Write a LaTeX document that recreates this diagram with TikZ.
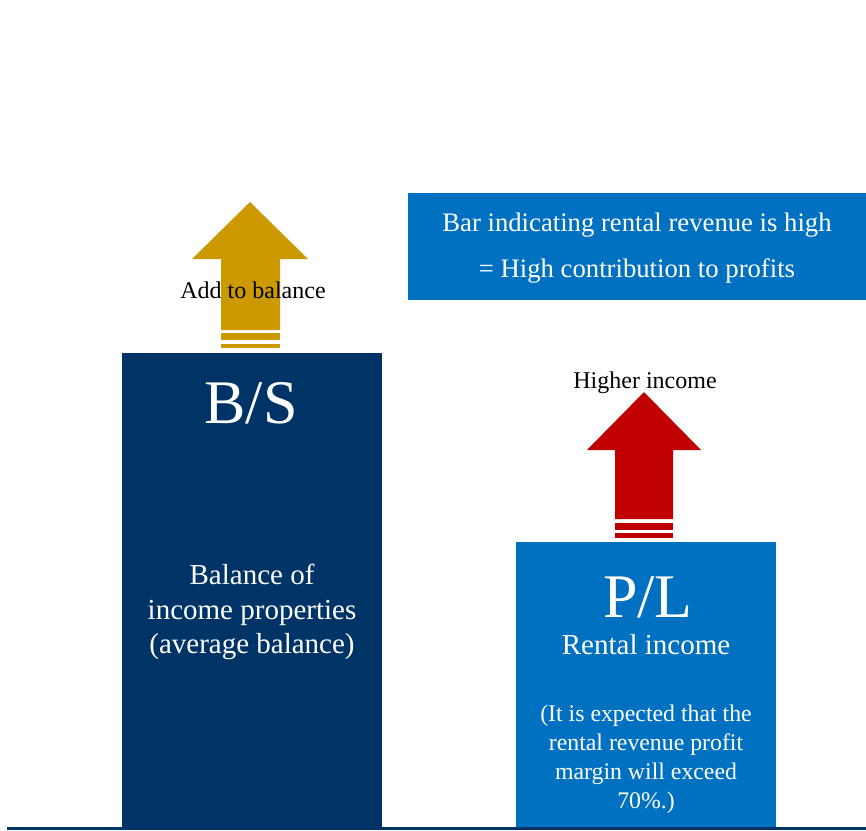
\documentclass[tikz,border=0pt]{standalone}
\usepackage{fontspec}
\setmainfont{Liberation Serif}
\definecolor{navy}{RGB}{0,51,102}
\definecolor{midblue}{RGB}{0,112,192}
\definecolor{gold}{RGB}{204,153,0}
\definecolor{darkred}{RGB}{192,0,0}
\begin{document}
\begin{tikzpicture}[x=1pt,y=-1pt,
  wtext/.style={text=white,inner sep=0pt,align=center},
  btext/.style={text=black,inner sep=0pt,align=center}]
\useasboundingbox (0,0) rectangle (866,830);
% bars
\fill[navy] (122,353) rectangle (382,828);
\fill[midblue] (516,542) rectangle (776,828);
\fill[navy] (7,827) rectangle (866,830);
\fill[midblue] (408,193) rectangle (866,300);
% gold arrow
\fill[gold] (250,202) -- (308,259) -- (280,259) -- (280,330) -- (221,330) -- (221,259) -- (192,259) -- cycle;
\fill[gold] (221,333) rectangle (280,340);
\fill[gold] (221,344) rectangle (280,348);
% red arrow
\fill[darkred] (644,392) -- (701,450) -- (673,450) -- (673,519) -- (615,519) -- (615,450) -- (587,450) -- cycle;
\fill[darkred] (615,523) rectangle (673,530);
\fill[darkred] (615,533) rectangle (673,538);
% texts
\node[btext,anchor=base,font=\fontsize{24}{28}\selectfont] (addbal) at (253,298) {Add to balance};
\node[btext,anchor=base,font=\fontsize{24}{28}\selectfont] (higher) at (645,388) {Higher income};
\node[wtext,anchor=base,font=\fontsize{62}{70}\selectfont] (bs) at (251,423) {B/S};
\node[wtext,font=\fontsize{29}{34.5}\selectfont] (bal) at (252,612) {Balance of\\income properties\\(average balance)};
\node[wtext,anchor=base,font=\fontsize{62}{70}\selectfont] (pl) at (648,617) {P/L};
\node[wtext,anchor=base,font=\fontsize{29}{33}\selectfont] (rent) at (646,654) {Rental income};
\node[wtext,font=\fontsize{23.8}{29}\selectfont] (exp) at (646,759) {(It is expected that the\\rental revenue profit\\margin will exceed\\70\%.)};
\node[wtext,font=\fontsize{26.7}{46}\selectfont] (bar) at (637,248) {Bar indicating rental revenue is high\\= High contribution to profits};
\end{tikzpicture}
\end{document}
